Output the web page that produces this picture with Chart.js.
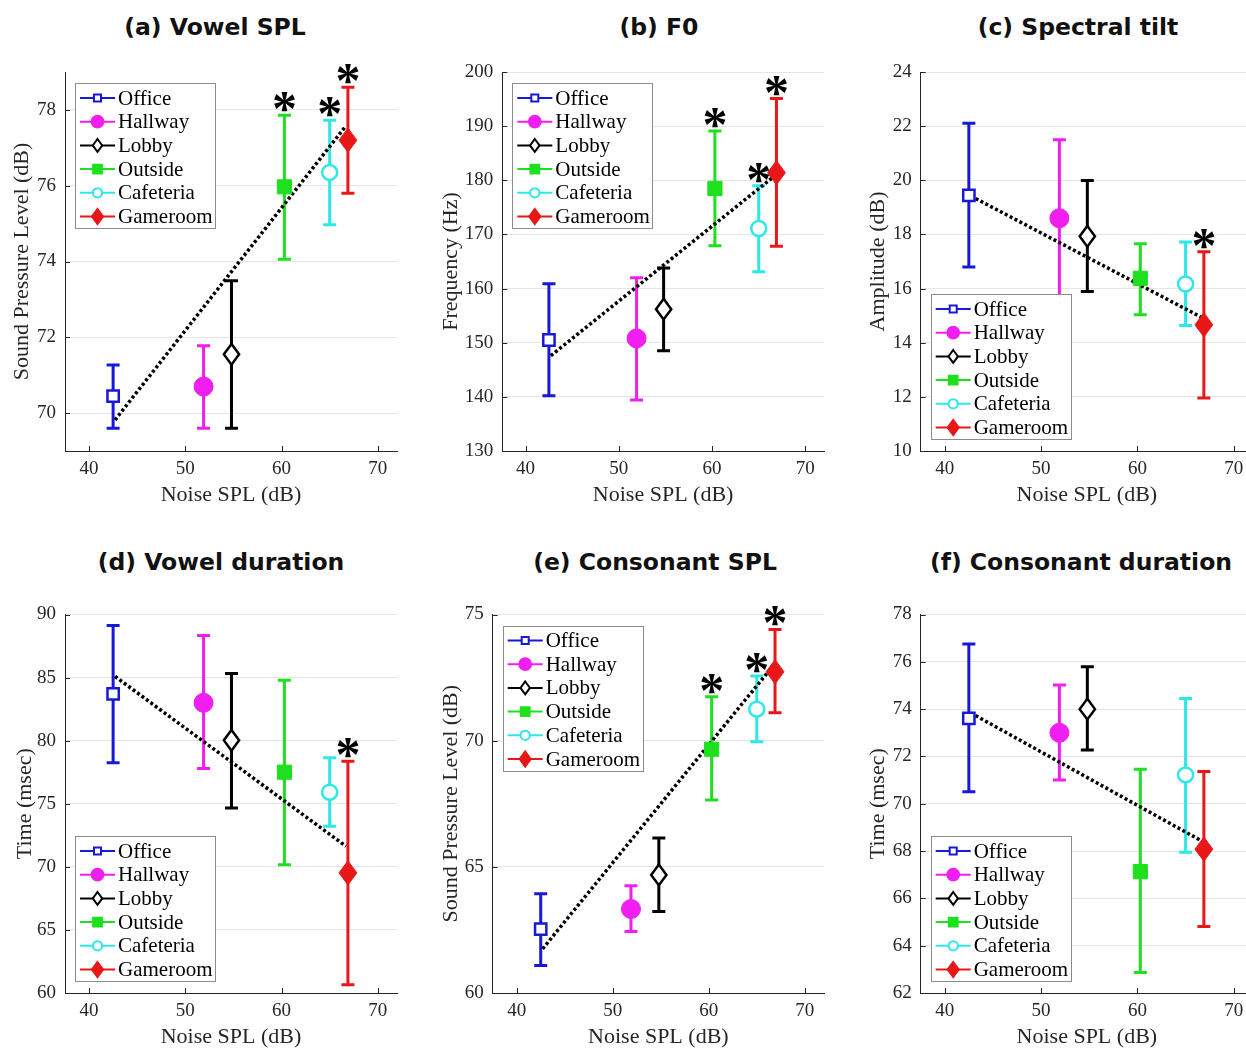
<!DOCTYPE html>
<html><head><meta charset="utf-8">
<script src="https://cdn.jsdelivr.net/npm/chart.js@4/dist/chart.umd.min.js"></script>
<style>
html,body{margin:0;padding:0;background:#fff;overflow:hidden;width:1246px;height:1048px;position:relative;}
canvas{position:absolute;display:block;}
.ttl{position:absolute;font-family:"DejaVu Sans","Open Sans",sans-serif;font-weight:700;font-size:23.5px;color:#111;white-space:nowrap;transform:translate(-50%,-50%);line-height:1;}
</style></head><body>
<div class="ttl" style="left:215px;top:28px">(a) Vowel SPL</div>
<div class="ttl" style="left:659px;top:28px">(b) F0</div>
<div class="ttl" style="left:1078px;top:28px">(c) Spectral tilt</div>
<div class="ttl" style="left:221px;top:563px">(d) Vowel duration</div>
<div class="ttl" style="left:655px;top:563px">(e) Consonant SPL</div>
<div class="ttl" style="left:1081px;top:563px">(f) Consonant duration</div>
<canvas id="cA" width="420" height="470" style="left:0px;top:50px"></canvas>
<canvas id="cB" width="420" height="470" style="left:420px;top:50px"></canvas>
<canvas id="cC" width="420" height="470" style="left:850px;top:50px"></canvas>
<canvas id="cD" width="420" height="470" style="left:0px;top:592px"></canvas>
<canvas id="cE" width="420" height="470" style="left:420px;top:592px"></canvas>
<canvas id="cF" width="420" height="470" style="left:850px;top:592px"></canvas>
<script>
// ---------- DATA ----------
const locations = ['Office', 'Hallway', 'Lobby', 'Outside', 'Cafeteria', 'Gameroom'];
const noiseSPL = [42.5, 51.9, 54.8, 60.3, 65.0, 66.9];
const xTickValues = [40, 50, 60, 70];
const xLimits = [37.5, 72];
const trendNoise = [42.7, 66.7];

// (a) Vowel SPL
const vowelSplMean  = [70.45, 70.70, 71.55, 75.97, 76.35, 77.20];
const vowelSplUpper = [71.27, 71.78, 73.49, 77.86, 77.73, 78.60];
const vowelSplLower = [69.60, 69.60, 69.60, 74.06, 74.97, 75.80];
const vowelSplTrend = [69.82, 77.58];
const vowelSplStars = [0, 0, 0, 1, 1, 1];
const vowelSplTicks = [70, 72, 74, 76, 78];
const vowelSplLimits = [69, 79];

// (b) F0
const f0Mean  = [150.5, 150.8, 156.2, 178.5, 171.1, 181.4];
const f0Upper = [160.9, 162.0, 163.8, 189.1, 179.0, 195.1];
const f0Lower = [140.2, 139.4, 148.5, 167.9, 163.1, 167.8];
const f0Trend = [147.6, 180.8];
const f0Stars = [0, 0, 0, 1, 1, 1];
const f0Ticks = [130, 140, 150, 160, 170, 180, 190, 200];
const f0Limits = [130, 200];

// (c) Spectral tilt
const tiltMean  = [19.44, 18.60, 17.93, 16.38, 16.17, 14.66];
const tiltUpper = [22.11, 21.50, 19.99, 17.66, 17.72, 17.36];
const tiltLower = [16.80, 15.70, 15.89, 15.03, 14.64, 11.96];
const tiltTrend = [19.42, 14.93];
const tiltStars = [0, 0, 0, 0, 0, 1];
const tiltTicks = [10, 12, 14, 16, 18, 20, 22, 24];
const tiltLimits = [10, 24];

// (d) Vowel duration
const vowelDurMean  = [83.71, 83.00, 80.03, 77.50, 75.91, 69.52];
const vowelDurUpper = [89.13, 88.33, 85.32, 84.79, 78.64, 78.37];
const vowelDurLower = [78.24, 77.79, 74.67, 70.17, 73.21, 60.66];
const vowelDurTrend = [85.09, 71.63];
const vowelDurStars = [0, 0, 0, 0, 0, 1];
const vowelDurTicks = [60, 65, 70, 75, 80, 85, 90];
const vowelDurLimits = [60, 90];

// (e) Consonant SPL
const consSplMean  = [62.53, 63.33, 64.68, 69.66, 71.25, 72.73];
const consSplUpper = [63.93, 64.25, 66.14, 71.74, 72.56, 74.41];
const consSplLower = [61.09, 62.44, 63.23, 67.65, 69.96, 71.11];
const consSplTrend = [61.75, 72.97];
const consSplStars = [0, 0, 0, 1, 1, 1];
const consSplTicks = [60, 65, 70, 75];
const consSplLimits = [60, 75];

// (f) Consonant duration
const consDurMean  = [73.61, 73.00, 74.00, 67.13, 71.22, 68.08];
const consDurUpper = [76.75, 75.02, 75.79, 71.46, 74.45, 71.36];
const consDurLower = [70.51, 71.00, 72.27, 62.87, 67.95, 64.81];
const consDurTrend = [73.84, 68.42];
const consDurStars = [0, 0, 0, 0, 0, 0];
const consDurTicks = [62, 64, 66, 68, 70, 72, 74, 76, 78];
const consDurLimits = [62, 78];

// ---------- STYLE ----------
const locColors = ['#1818d8', '#f01ef0', '#000000', '#1ee01e', '#2ee8e8', '#e81818'];
const locShapes = ['rect', 'circle', 'rectRot', 'rect', 'circle', 'rectRot'];
const locFilled = [false, true, false, true, false, true];
const locRadius = [8, 9.5, 9, 10, 7.5, 10.5];
const SERIF = '"Liberation Serif", "Times New Roman", serif';
const AXIS_COLOR = '#262626';

function drawMarker(ctx, shape, x, y, r, color, filled, lw) {
  ctx.save();
  ctx.beginPath();
  if (shape === 'rect') {
    const s = r * Math.SQRT1_2;
    ctx.rect(x - s, y - s, 2 * s, 2 * s);
  } else if (shape === 'circle') {
    ctx.arc(x, y, r, 0, Math.PI * 2);
  } else {
    ctx.moveTo(x, y - r * 1.15); ctx.lineTo(x + r * 0.85, y);
    ctx.lineTo(x, y + r * 1.15); ctx.lineTo(x - r * 0.85, y); ctx.closePath();
  }
  ctx.fillStyle = filled ? color : '#ffffff';
  ctx.fill();
  ctx.lineWidth = lw; ctx.strokeStyle = color; ctx.stroke();
  ctx.restore();
}

const errorBarPlugin = {
  id: 'errorBars',
  beforeDatasetsDraw(chart, args, opts) {
    const {ctx, scales: {x, y}} = chart;
    ctx.save();
    ctx.lineWidth = 3;
    noiseSPL.forEach((nx, i) => {
      const px = x.getPixelForValue(nx);
      const pT = y.getPixelForValue(opts.upper[i]);
      const pB = y.getPixelForValue(opts.lower[i]);
      ctx.strokeStyle = locColors[i];
      ctx.beginPath();
      ctx.moveTo(px, pT); ctx.lineTo(px, pB);
      ctx.moveTo(px - 6.5, pT); ctx.lineTo(px + 6.5, pT);
      ctx.moveTo(px - 6.5, pB); ctx.lineTo(px + 6.5, pB);
      ctx.stroke();
    });
    ctx.restore();
  }
};

const markerPlugin = {
  id: 'markers',
  afterDatasetsDraw(chart, args, opts) {
    const {ctx, scales: {x, y}} = chart;
    noiseSPL.forEach((nx, i) => {
      drawMarker(ctx, locShapes[i], x.getPixelForValue(nx), y.getPixelForValue(opts.mean[i]),
        locRadius[i], locColors[i], locFilled[i], locFilled[i] ? 1 : 2.5);
    });
    // significance asterisks
    ctx.save();
    ctx.font = 'bold 50px ' + SERIF;
    ctx.textAlign = 'center'; ctx.textBaseline = 'alphabetic'; ctx.fillStyle = '#000';
    const m = ctx.measureText('*');
    const shift = (m.actualBoundingBoxAscent - m.actualBoundingBoxDescent) / 2;
    noiseSPL.forEach((nx, i) => {
      if (!opts.stars[i]) return;
      const px = x.getPixelForValue(nx);
      const cy = y.getPixelForValue(opts.upper[i]) - 13;
      ctx.fillText('*', px, cy + shift);
    });
    ctx.restore();
  }
};

const inwardTicksPlugin = {
  id: 'inwardTicks',
  afterDraw(chart) {
    const {ctx, chartArea: ca, scales: {x, y}} = chart;
    ctx.save();
    ctx.strokeStyle = AXIS_COLOR; ctx.lineWidth = 1;
    ctx.beginPath();
    x.ticks.forEach(t => { const p = Math.round(x.getPixelForValue(t.value)) + 0.5; ctx.moveTo(p, ca.bottom); ctx.lineTo(p, ca.bottom - 5); });
    y.ticks.forEach(t => { const p = Math.round(y.getPixelForValue(t.value)) + 0.5; ctx.moveTo(ca.left, p); ctx.lineTo(ca.left + 5, p); });
    ctx.stroke();
    ctx.restore();
  }
};

const boxLegendPlugin = {
  id: 'boxLegend',
  afterDraw(chart, args, opts) {
    const {ctx, chartArea: ca} = chart;
    const w = 140, h = 145;
    const left = ca.left + 10;
    const top = opts.corner === 'top' ? ca.top + 11 : ca.bottom - 12 - h;
    ctx.save();
    ctx.fillStyle = '#fff'; ctx.fillRect(left, top, w, h);
    ctx.strokeStyle = '#8c8c8c'; ctx.lineWidth = 1;
    ctx.strokeRect(Math.round(left) + 0.5, Math.round(top) + 0.5, w, h);
    locations.forEach((name, i) => {
      const cy = top + 15 + i * 23.7;
      ctx.strokeStyle = locColors[i]; ctx.lineWidth = 2;
      ctx.beginPath(); ctx.moveTo(left + 5, cy); ctx.lineTo(left + 40, cy); ctx.stroke();
      drawMarker(ctx, locShapes[i], left + 22.5, cy, locRadius[i] * 0.62, locColors[i], locFilled[i], 2);
      ctx.fillStyle = '#000'; ctx.font = '21px ' + SERIF; ctx.textBaseline = 'middle'; ctx.textAlign = 'left';
      ctx.fillText(name, left + 43, cy + 1);
    });
    ctx.restore();
  }
};

function makePanel(id, cfg) {
  const datasets = [{
    type: 'line', label: 'trend',
    data: trendNoise.map((v, k) => ({x: v, y: cfg.trend[k]})),
    borderColor: '#000', borderWidth: 3.5, borderDash: [3, 2.5], pointRadius: 0, fill: false
  }];
  new Chart(document.getElementById(id), {
    type: 'scatter',
    data: {datasets},
    options: {
      responsive: false, animation: false, events: [],
      layout: {padding: {left: cfg.padL, right: cfg.padR, top: cfg.padT, bottom: 12}},
      plugins: {
        legend: {display: false}, tooltip: {enabled: false}, title: {display: false},
        errorBars: {upper: cfg.upper, lower: cfg.lower},
        markers: {mean: cfg.mean, upper: cfg.upper, stars: cfg.stars},
        boxLegend: {corner: cfg.corner}
      },
      scales: {
        x: {
          type: 'linear', min: xLimits[0], max: xLimits[1],
          afterBuildTicks: s => { s.ticks = xTickValues.map(v => ({value: v})); },
          afterFit: s => { s.height = 57; s.paddingLeft = 0; s.paddingRight = 0; },
          grid: {display: false, drawTicks: false},
          border: {display: true, color: AXIS_COLOR, width: 1},
          ticks: {autoSkip: false, maxRotation: 0, padding: 7, color: AXIS_COLOR, font: {family: SERIF, size: 19}},
          title: {display: true, text: 'Noise SPL (dB)', color: AXIS_COLOR, padding: 0, font: {family: SERIF, size: 22}}
        },
        y: {
          min: cfg.limits[0], max: cfg.limits[1],
          afterBuildTicks: s => { s.ticks = cfg.ticks.map(v => ({value: v})); },
          afterFit: s => { s.width = cfg.yW; s.paddingTop = 0; s.paddingBottom = 0; },
          grid: {color: '#e6e6e6', lineWidth: 1, drawTicks: false},
          border: {display: true, color: AXIS_COLOR, width: 1},
          ticks: {padding: 9, color: AXIS_COLOR, font: {family: SERIF, size: 19}},
          title: {display: true, text: cfg.yTitle, color: AXIS_COLOR, padding: 0, font: {family: SERIF, size: 22}}
        }
      }
    },
    plugins: [errorBarPlugin, markerPlugin, inwardTicksPlugin, boxLegendPlugin]
  });
}

makePanel('cA', {mean: vowelSplMean, upper: vowelSplUpper, lower: vowelSplLower, trend: vowelSplTrend, stars: vowelSplStars,
  ticks: vowelSplTicks, limits: vowelSplLimits, yTitle: 'Sound Pressure Level (dB)', corner: 'top', padL: 9, yW: 56, padR: 23, padT: 22});
makePanel('cB', {mean: f0Mean, upper: f0Upper, lower: f0Lower, trend: f0Trend, stars: f0Stars,
  ticks: f0Ticks, limits: f0Limits, yTitle: 'Frequency (Hz)', corner: 'top', padL: 18.5, yW: 63.8, padR: 16, padT: 22});
makePanel('cC', {mean: tiltMean, upper: tiltUpper, lower: tiltLower, trend: tiltTrend, stars: tiltStars,
  ticks: tiltTicks, limits: tiltLimits, yTitle: 'Amplitude (dB)', corner: 'bottom', padL: 15, yW: 55.7, padR: 17, padT: 22});
makePanel('cD', {mean: vowelDurMean, upper: vowelDurUpper, lower: vowelDurLower, trend: vowelDurTrend, stars: vowelDurStars,
  ticks: vowelDurTicks, limits: vowelDurLimits, yTitle: 'Time (msec)', corner: 'bottom', padL: 12, yW: 53, padR: 23, padT: 22.5});
makePanel('cE', {mean: consSplMean, upper: consSplUpper, lower: consSplLower, trend: consSplTrend, stars: consSplStars,
  ticks: consSplTicks, limits: consSplLimits, yTitle: 'Sound Pressure Level (dB)', corner: 'top', padL: 18.5, yW: 54.2, padR: 16, padT: 22.5});
makePanel('cF', {mean: consDurMean, upper: consDurUpper, lower: consDurLower, trend: consDurTrend, stars: consDurStars,
  ticks: consDurTicks, limits: consDurLimits, yTitle: 'Time (msec)', corner: 'bottom', padL: 15, yW: 55.7, padR: 17, padT: 22.5});
</script>
</body></html>
